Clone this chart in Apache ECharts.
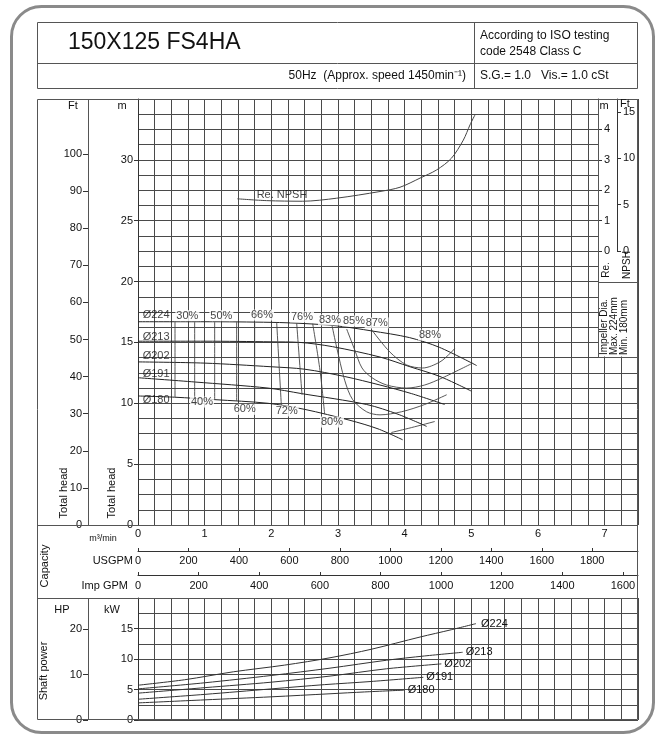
<!DOCTYPE html>
<html><head><meta charset="utf-8">
<script src="https://cdn.jsdelivr.net/npm/echarts@6/dist/echarts.min.js"></script>
<style>html,body{margin:0;padding:0;background:#fff}#c{width:657px;height:735px}</style>
</head><body><div id="c"></div>
<script>
const FONT = '"Liberation Sans", Arial, Helvetica, sans-serif';

// ---------- tick labels ----------
const m3Ticks = [0,1,2,3,4,5,6,7];
const usgpmTicks = [0,200,400,600,800,1000,1200,1400,1600,1800];
const igpmTicks = [0,200,400,600,800,1000,1200,1400,1600];
const headMTicks = [0,5,10,15,20,25,30];
const headFtTicks = [0,10,20,30,40,50,60,70,80,90,100];
const npshMTicks = [0,1,2,3,4];
const npshFtTicks = [0,5,10,15];
const kwTicks = [0,5,10,15];
const hpTicks = [0,10,20];

// ---------- head curves (Q m3/min, H m) ----------
const diameters = ['Ø224','Ø213','Ø202','Ø191','Ø180'];
const head224 = [[0,16.7],[1,16.7],[2,16.65],[2.5,16.55],[3,16.35],[3.5,15.95],[4.07,15.4],[4.52,14.6],[5.08,13.1]];
const head213 = [[0,15.1],[1,15.1],[2,15.05],[2.43,15.0],[2.92,14.65],[3.63,13.8],[4.08,13.0],[4.53,12.2],[5.0,11.0]];
const head202 = [[0,13.4],[1,13.3],[2,13.0],[2.5,12.8],[3.1,12.2],[3.63,11.5],[4.1,10.8],[4.6,9.9]];
const head191 = [[0,12.1],[0.85,11.75],[1.95,11.25],[2.45,10.8],[3.43,9.9],[3.9,9.1],[4.33,8.1]];
const head180 = [[0,10.6],[0.55,10.5],[1.15,10.3],[1.95,10.0],[2.5,9.5],[3.18,8.6],[3.6,7.9],[3.97,7.0]];

// ---------- iso-efficiency curves (Q, H) ----------
const eff30 = [[0.555,16.7],[0.555,10.5]];
const eff40 = [[0.85,16.7],[0.85,10.4]];
const eff50 = [[1.15,16.7],[1.15,10.3]];
const eff60 = [[1.48,16.7],[1.48,10.2]];
const eff66 = [[1.75,16.7],[1.75,10.1]];
const eff72 = [[2.08,16.65],[2.15,9.85]];
const eff76 = [[2.38,16.6],[2.46,10.7]];
const eff80 = [[2.62,16.55],[2.73,12.7],[2.8,9.1],null,[3.8,7.6],[4.1,8.0],[4.45,8.5]];
const eff83 = [[2.91,16.4],[2.98,14.6],[3.1,11.9],[3.22,10.3],[3.43,9.3],[3.63,9.05],[3.95,9.3],[4.3,9.9],[4.63,10.7]];
const eff85 = [[3.13,16.1],[3.25,14.4],[3.36,12.9],[3.51,12.1],[3.73,11.5],[4.03,11.25],[4.3,11.5],[4.57,12.1],[5.02,13.3]];
const eff87 = [[3.51,16.0],[3.78,14.2],[4.03,13.15],[4.27,12.9],[4.53,13.4],[4.7,14.2],[4.75,14.5]];
const effCurves = [eff30,eff40,eff50,eff60,eff66,eff72,eff76,eff80,eff83,eff85,eff87];
const effNames = ['30%','40%','50%','60%','66%','72%','76%','80%','83%','85%','87%','88%'];
const effLabelAt = [[0.56,17.2],[0.78,10.1],[1.07,17.2],[1.42,9.5],[1.68,17.25],[2.05,9.37],[2.28,17.1],[2.73,8.46],[2.70,16.85],[3.06,16.76],[3.40,16.6],[4.2,15.6]];
const diaLabelAt = [[0.07,17.25],[0.07,15.45],[0.07,13.9],[0.07,12.4],[0.07,10.3]];

// ---------- required NPSH (Q, NPSH m) ----------
const npshRe = [[1.49,1.72],[1.93,1.66],[2.47,1.64],[2.98,1.74],[3.63,1.96],[3.93,2.1],[4.23,2.4],[4.48,2.67],[4.7,3.05],[4.88,3.65],[4.98,4.15],[5.06,4.5]];
const npshLabelAt = [[1.78,1.86]];

// ---------- shaft power (Q, kW) ----------
const pow224 = [[0,5.7],[0.7,6.6],[1.43,7.9],[2.2,9.0],[2.88,10.2],[3.5,11.6],[4.23,13.6],[4.7,14.8],[5.07,15.8]];
const pow213 = [[0,5.1],[1,6.1],[2,7.3],[2.88,8.5],[3.73,9.8],[4.3,10.5],[4.87,11.1]];
const pow202 = [[0,4.4],[1,5.3],[2,6.2],[2.88,7.2],[3.73,8.4],[4.55,9.2]];
const pow191 = [[0,3.4],[1,4.2],[2,5.1],[2.8,5.8],[3.48,6.3],[4.28,7.0]];
const pow180 = [[0,2.8],[1,3.3],[2,3.8],[2.88,4.3],[3.4,4.6],[4.0,4.9]];

// ---------- unit conversions ----------
const M_TO_FT = 3.28084, M3MIN_TO_USGPM = 264.172, M3MIN_TO_IGPM = 219.969, KW_TO_HP = 1/0.745699;
const Q_MAX = 7.5, H_MAX = 35, KW_MAX = 20;
const NPSH_MIN = -9, NPSH_MAX = 5;

const chart = echarts.init(document.getElementById('c'));
const txt = {fontFamily: FONT, fontSize: 11, color: '#111'};
const fmt = arr => v => arr.some(t => Math.abs(t - v) < 1e-6) ? String(Math.round(v)) : '';
const GRIDC = '#4a4a4a';

const line = (data, xi, yi, extra) => Object.assign({
  type:'line', xAxisIndex:xi, yAxisIndex:yi, data, symbol:'none', showSymbol:false,
  smooth:0.3, connectNulls:false, silent:true, animation:false,
  lineStyle:{color:'#333', width:1}
}, extra || {});

const series = [];
[head224,head213,head202,head191,head180].forEach(d => series.push(line(d,0,0,{lineStyle:{color:'#222',width:1}})));
effCurves.forEach(d => series.push(line(d,0,0,{lineStyle:{color:'#444',width:0.9}})));
series.push(line(npshRe,0,3,{lineStyle:{color:'#444',width:1}}));
[pow224,pow213,pow202,pow191,pow180].forEach((d,i) => series.push(line(d,4,4,{
  lineStyle:{color:'#333',width:1},
  endLabel:{show:true, formatter: diameters[i], distance: i===0?5:3, ...txt}
})));
// text labels anchored in data coordinates
series.push({type:'scatter', xAxisIndex:0, yAxisIndex:0, symbolSize:0, silent:true, z:5, animation:false,
  data: effLabelAt.map((p,i)=>({value:p, name:effNames[i]})),
  label:{show:true, position:'right', distance:0, formatter:p=>p.name, backgroundColor:'#fff', padding:[0,1], ...txt}});
series.push({type:'scatter', xAxisIndex:0, yAxisIndex:0, symbolSize:0, silent:true, z:5, animation:false,
  data: diaLabelAt.map((p,i)=>({value:p, name:diameters[i]})),
  label:{show:true, position:'right', distance:0, formatter:p=>p.name, ...txt}});
series.push({type:'scatter', xAxisIndex:0, yAxisIndex:3, symbolSize:0, silent:true, z:5, animation:false,
  data: npshLabelAt.map(p=>({value:p, name:'Re. NPSH'})),
  label:{show:true, position:'right', distance:0, formatter:p=>p.name, ...txt}});

const noAx = {axisLine:{show:false, onZero:false}, axisTick:{show:false}, axisLabel:{show:false}, splitLine:{show:false}};
const gridSplit = {show:true, lineStyle:{color:GRIDC, width:1}};

const xAxis = [
  Object.assign({}, noAx, {gridIndex:0, type:'value', min:0, max:Q_MAX, interval:0.25, splitLine:gridSplit}),
  Object.assign({}, noAx, {gridIndex:0, type:'value', min:0, max:Q_MAX, interval:1, position:'bottom',
    axisLabel:{show:true, margin:3, formatter:fmt(m3Ticks), showMaxLabel:false, ...txt}}),
  {gridIndex:0, type:'value', min:0, max:Q_MAX*M3MIN_TO_USGPM, interval:200, position:'bottom', offset:26,
    axisLine:{show:true, onZero:false, lineStyle:{color:'#333', width:1}}, axisTick:{show:true, inside:true, length:3, lineStyle:{color:'#333'}},
    axisLabel:{show:true, margin:4, formatter:fmt(usgpmTicks), showMaxLabel:false, ...txt}, splitLine:{show:false}},
  {gridIndex:0, type:'value', min:0, max:Q_MAX*M3MIN_TO_IGPM, interval:200, position:'bottom', offset:50,
    axisLine:{show:true, onZero:false, lineStyle:{color:'#333', width:1}}, axisTick:{show:true, inside:true, length:3, lineStyle:{color:'#333'}},
    axisLabel:{show:true, margin:5, formatter:fmt(igpmTicks), showMaxLabel:false, ...txt}, splitLine:{show:false}},
  Object.assign({}, noAx, {gridIndex:1, type:'value', min:0, max:Q_MAX, interval:0.25, splitLine:gridSplit}),
  {gridIndex:2, type:'value', min:0, max:1, show:false, axisLine:{onZero:false}}
];

const yAxis = [
  Object.assign({}, noAx, {gridIndex:0, type:'value', min:0, max:H_MAX, interval:1.25, splitLine:gridSplit}),
  {gridIndex:0, type:'value', min:0, max:H_MAX, interval:5, position:'left',
    axisLine:{show:true, onZero:false, lineStyle:{color:'#333'}}, axisTick:{show:true, length:4, lineStyle:{color:'#333'}},
    axisLabel:{show:true, margin:5, formatter:fmt(headMTicks), ...txt}, splitLine:{show:false}},
  {gridIndex:0, type:'value', min:0, max:H_MAX*M_TO_FT, interval:10, position:'left', offset:50,
    axisLine:{show:false, onZero:false}, axisTick:{show:true, length:5, customValues:headFtTicks, lineStyle:{color:'#333'}},
    axisLabel:{show:true, margin:6, customValues:headFtTicks, formatter:fmt(headFtTicks), ...txt}, splitLine:{show:false}},
  {gridIndex:0, type:'value', min:NPSH_MIN, max:NPSH_MAX, position:'right', show:false, axisLine:{onZero:false}},
  Object.assign({}, noAx, {gridIndex:1, type:'value', min:0, max:KW_MAX, interval:2.5, splitLine:gridSplit}),
  {gridIndex:1, type:'value', min:0, max:KW_MAX, interval:5, position:'left',
    axisLine:{show:true, onZero:false, lineStyle:{color:'#333'}}, axisTick:{show:true, length:4, lineStyle:{color:'#333'}},
    axisLabel:{show:true, margin:5, formatter:fmt(kwTicks), showMaxLabel:false, ...txt}, splitLine:{show:false}},
  {gridIndex:1, type:'value', min:0, max:KW_MAX*KW_TO_HP, interval:10, position:'left', offset:50,
    axisLine:{show:false, onZero:false}, axisTick:{show:true, length:5, lineStyle:{color:'#333'}},
    axisLabel:{show:true, margin:6, formatter:fmt(hpTicks), showMaxLabel:false, ...txt}, splitLine:{show:false}},
  {gridIndex:2, type:'value', min:0, max:NPSH_MAX, interval:1, position:'left', z:10,
    axisLine:{show:true, onZero:false, lineStyle:{color:'#333'}}, axisTick:{show:true, inside:true, length:4, lineStyle:{color:'#333'}},
    axisLabel:{show:true, inside:true, margin:6, formatter:fmt(npshMTicks), showMaxLabel:false, ...txt}, splitLine:{show:false}},
  {gridIndex:2, type:'value', min:0, max:NPSH_MAX*M_TO_FT, interval:5, position:'left', offset:-19, z:10,
    axisLine:{show:true, onZero:false, lineStyle:{color:'#333'}}, axisTick:{show:true, inside:true, length:4, lineStyle:{color:'#333'}},
    axisLabel:{show:true, inside:true, margin:6, formatter:fmt(npshFtTicks), showMaxLabel:false, ...txt}, splitLine:{show:false}}
];

const LC = '#555';
const L = (x1,y1,x2,y2,w,c) => ({type:'line', silent:true, z:20, shape:{x1,y1,x2,y2}, style:{stroke:c||LC, lineWidth:w||1}});
const T = (x,y,text,o) => { o = o || {}; return {type:'text', silent:true, z:21, x, y, rotation:o.rot||0,
  style:{text, fill:'#111', fontFamily:FONT, fontSize:o.size||11,
    align:o.align||'left', verticalAlign:o.va||'middle', textAlign:o.align||'left', textVerticalAlign:o.va||'middle'}}; };
const R = Math.PI/2;

const graphic = [
  {type:'rect', silent:true, z:5, shape:{x:598.5, y:99.5, width:39, height:257}, style:{fill:'#fff'}},
  {type:'rect', silent:true, z:20, shape:{x:11.5, y:6.5, width:642, height:726, r:30}, style:{fill:'none', stroke:'#8a8a8a', lineWidth:3}},
  {type:'rect', silent:true, z:20, shape:{x:37.5, y:22.5, width:600, height:66}, style:{fill:'none', stroke:LC, lineWidth:1}},
  L(37.5,63.5,637.5,63.5), L(474.5,22.5,474.5,88.5),
  {type:'rect', silent:true, z:20, shape:{x:37.5, y:99.5, width:600, height:620}, style:{fill:'none', stroke:LC, lineWidth:1}},
  L(88.5,99.5,88.5,525.5), L(88.5,598.5,88.5,719.5),
  L(37.5,525.5,637.5,525.5), L(37.5,598.5,637.5,598.5),
  L(598.5,99.5,598.5,357.5), L(598.5,282.5,637.5,282.5), L(598.5,357.5,637.5,357.5),
  T(68,43,'150X125 FS4HA',{size:23}),
  T(480,36,'According to ISO testing',{size:12}),
  T(480,52,'code 2548 Class C',{size:12}),
  T(466,76,'50Hz  (Approx. speed 1450min\u207B\u00B9)',{size:12, align:'right'}),
  T(480,76,'S.G.= 1.0   Vis.= 1.0 cSt',{size:12}),
  T(73,106,'Ft',{align:'center'}), T(122,106,'m',{align:'center'}),
  T(604,106,'m',{align:'center'}), T(625,104,'Ft',{align:'center'}),
  T(64,493,'Total head',{rot:R, align:'center'}), T(112,493,'Total head',{rot:R, align:'center'}),
  T(45,566,'Capacity',{rot:R, align:'center'}),
  T(103,539,'m\u00B3/min',{size:9, align:'center'}),
  T(133,561,'USGPM',{align:'right'}),
  T(128,586,'Imp GPM',{align:'right'}),
  T(62,610,'HP',{align:'center'}), T(112,610,'kW',{align:'center'}),
  T(44,671,'Shaft power',{rot:R, align:'center'}),
  T(606,270,'Re.',{rot:R, size:10, align:'center'}),
  T(627,265,'NPSH',{rot:R, size:10, align:'center'}),
  T(604,355,'Impeller Dia.',{rot:R, size:10}),
  T(614,355,'Max. 224mm',{rot:R, size:10}),
  T(624,355,'Min. 180mm',{rot:R, size:10})
];

chart.setOption({
  animation:false,
  textStyle:{fontFamily:FONT},
  grid:[
    {left:138, top:99, width:500, height:426, containLabel:false},
    {left:138, top:598, width:500, height:122, containLabel:false},
    {left:598, top:99, width:40, height:152, containLabel:false}
  ],
  xAxis, yAxis, series, graphic
});
</script>
</body></html>
